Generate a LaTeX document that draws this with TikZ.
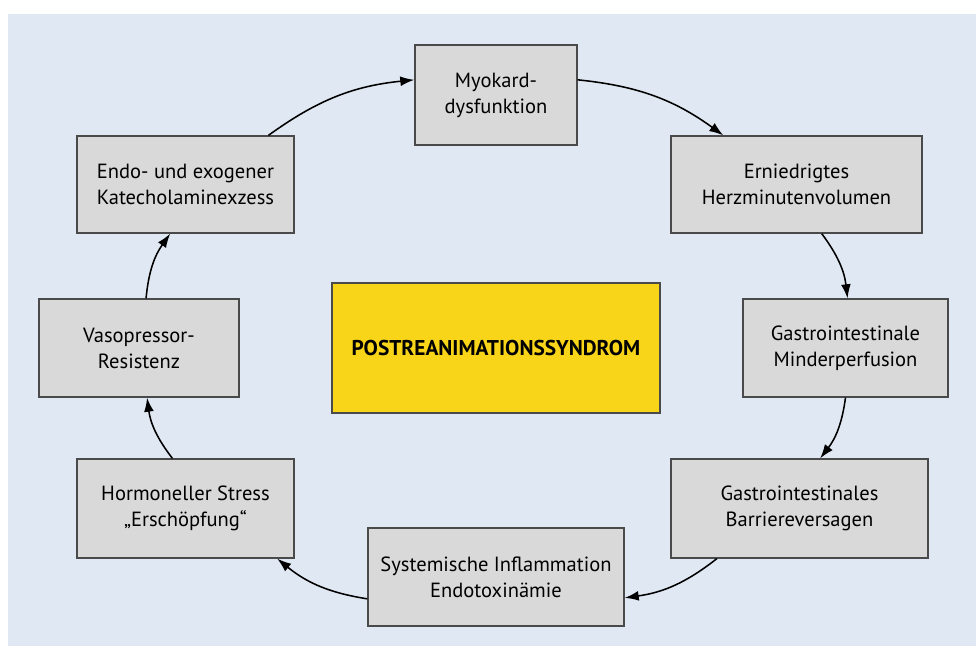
\documentclass[tikz,border=0pt]{standalone}
\usepackage{fontspec}
\setmainfont{PT Sans}
\usetikzlibrary{calc,arrows.meta}
\definecolor{panelblue}{HTML}{E0E9F3}
\definecolor{boxgrey}{HTML}{D9D9D9}
\definecolor{boxline}{HTML}{4A4A4A}
\definecolor{syndromyellow}{HTML}{F8D518}
\begin{document}
\begin{tikzpicture}[x=0.025cm,y=-0.025cm,
    box/.style={draw=boxline,fill=boxgrey,line width=0.9pt,align=center,inner sep=0pt,font=\fontsize{14.6}{18.5}\selectfont},
    flow/.style={-{Latex[length=10pt,width=7pt]},line width=1.1pt,bend left=15}]
    \useasboundingbox (0,0) rectangle (976,646);
    \fill[panelblue] (8,14) rectangle (976,646);
    % Kreislauf
    \node[box,minimum width=4.05cm,minimum height=2.5cm] (myo) at (496,95) {Myokard-\\dysfunktion};
    \node[box,minimum width=6.275cm,minimum height=2.425cm] (herz) at (796.5,184.5) {Erniedrigtes\\Herzminutenvolumen};
    \node[box,minimum width=5.125cm,minimum height=2.45cm] (minder) at (845.5,348) {Gastrointestinale\\Minderperfusion};
    \node[box,minimum width=6.425cm,minimum height=2.475cm] (barriere) at (799.5,508.5) {Gastrointestinales\\Barriereversagen};
    \node[box,minimum width=6.4cm,minimum height=2.45cm] (sirs) at (496,577) {Systemische Inflammation\\Endotoxinämie};
    \node[box,minimum width=5.425cm,minimum height=2.475cm] (stress) at (185.5,508.5) {Hormoneller Stress\\„Erschöpfung“};
    \node[box,minimum width=5cm,minimum height=2.45cm] (vaso) at (139,348) {Vasopressor-\\Resistenz};
    \node[box,minimum width=5.425cm,minimum height=2.425cm] (kat) at (185.5,184.5) {Endo- und exogener\\Katecholaminexzess};
    \node[box,fill=syndromyellow,minimum width=8.2cm,minimum height=3.25cm,font=\bfseries\fontsize{15.2}{18.5}\selectfont] (prs) at (496,348) {POSTREANIMATIONSSYNDROM};
    % Pfeile
    \draw[flow] ($(kat.north west)!0.88!(kat.north east)$) to ($(myo.north west)!0.35!(myo.south west)$);
    \draw[flow] ($(myo.north east)!0.35!(myo.south east)$) to ($(herz.north west)!0.21!(herz.north east)$);
    \draw[flow] ($(herz.south west)!0.6!(herz.south east)$) to ($(minder.north west)!0.51!(minder.north east)$);
    \draw[flow] ($(minder.south west)!0.5!(minder.south east)$) to ($(barriere.north west)!0.58!(barriere.north east)$);
    \draw[flow] ($(barriere.south west)!0.18!(barriere.south east)$) to ($(sirs.north east)!0.71!(sirs.south east)$);
    \draw[flow] ($(sirs.north west)!0.72!(sirs.south west)$) to ($(stress.south west)!0.92!(stress.south east)$);
    \draw[flow] ($(stress.north west)!0.44!(stress.north east)$) to ($(vaso.south west)!0.54!(vaso.south east)$);
    \draw[flow] ($(vaso.north west)!0.535!(vaso.north east)$) to ($(kat.south west)!0.43!(kat.south east)$);
\end{tikzpicture}
\end{document}
